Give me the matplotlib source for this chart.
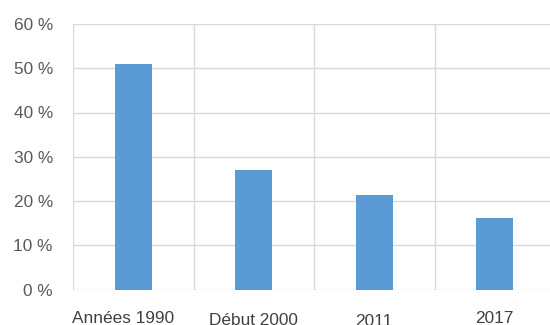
import matplotlib.pyplot as plt
from matplotlib.ticker import FuncFormatter, FixedLocator
from matplotlib.transforms import ScaledTranslation

# Share of the population, by period
periodes = ['Années 1990', 'Début 2000', '2011', '2017']
parts = [51.0, 27.0, 21.3, 16.1]

plt.rcParams['font.family'] = ['Liberation Sans', 'DejaVu Sans']

fig = plt.figure(figsize=(5.5, 3.25), dpi=100)
ax = fig.add_axes([73 / 550, 1 - 289.5 / 325, 482 / 550, 265.5 / 325])

x = range(len(periodes))
ax.bar(x, parts, width=0.31, color='#5B9BD5', zorder=3)

ax.set_xlim(-0.5, 3.5)
ax.set_ylim(0, 60)
ax.set_yticks(range(0, 61, 10))
ax.yaxis.set_major_formatter(FuncFormatter(lambda v, p: f'{v:.0f} %'))

# vertical separators between the categories
ax.xaxis.set_minor_locator(FixedLocator([-0.5, 0.5, 1.5, 2.5]))
ax.grid(axis='y', which='major', color='#d9d9d9', linewidth=1.0, zorder=0)
ax.grid(axis='x', which='minor', color='#d9d9d9', linewidth=1.0, zorder=0)

ax.set_xticks(list(x))
ax.set_xticklabels(periodes)
ax.tick_params(axis='both', which='both', length=0, labelsize=12.4, labelcolor='#404040')
ax.tick_params(axis='x', pad=15.3)
ax.tick_params(axis='y', pad=14.5, labelcolor='#595959')

# small per-label shifts of the category labels (in inches)
shifts = [(-0.10, 0.0), (0.0, -0.023), (0.0, -0.03), (0.0, -0.007)]
for lab, (dx, dy) in zip(ax.get_xticklabels(), shifts):
    lab.set_transform(lab.get_transform() + ScaledTranslation(dx, dy, fig.dpi_scale_trans))

for s in ax.spines.values():
    s.set_visible(False)

fig.savefig('out.png', dpi=100)
